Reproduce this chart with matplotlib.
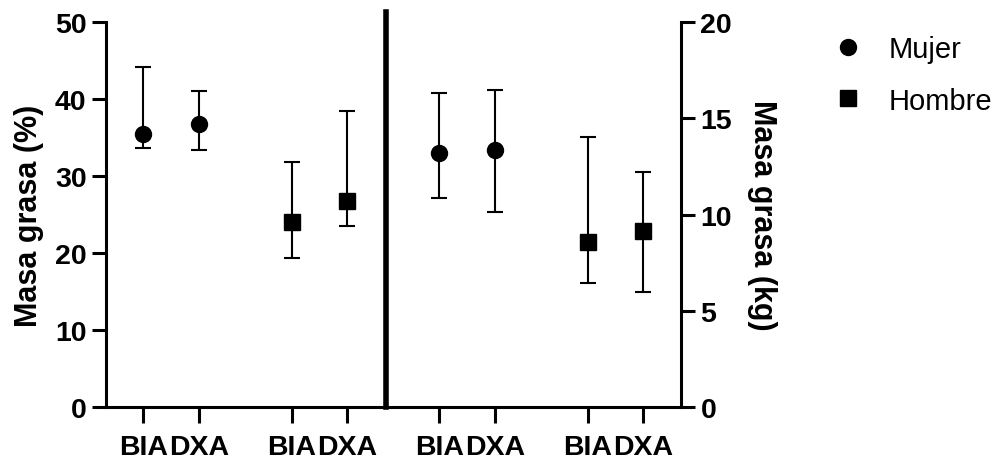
import numpy as np
import matplotlib.pyplot as plt
from matplotlib.lines import Line2D

plt.rcParams['font.family'] = ['Liberation Sans', 'DejaVu Sans']

methods = ['BIA', 'DXA']
groups = ['Mujer', 'Hombre']

# masa grasa (%): media, limite inferior, limite superior (BIA, DXA)
pct_mujer = [35.4, 36.7]
pct_mujer_lo = [33.6, 33.4]
pct_mujer_hi = [44.1, 41.0]
pct_hombre = [24.0, 26.8]
pct_hombre_lo = [19.4, 23.5]
pct_hombre_hi = [31.8, 38.5]

# masa grasa (kg)
kg_mujer = [13.2, 13.35]
kg_mujer_lo = [10.85, 10.15]
kg_mujer_hi = [16.3, 16.45]
kg_hombre = [8.55, 9.15]
kg_hombre_lo = [6.45, 5.95]
kg_hombre_hi = [14.05, 12.2]

pct_ticks = [0, 10, 20, 30, 40, 50]
kg_ticks = [0, 5, 10, 15, 20]

# x positions of the four pairs
pos = [np.array([0, 1]), np.array([2.67, 3.67]),
       np.array([5.33, 6.33]), np.array([8, 9])]
divider = 4.37

fig = plt.figure(figsize=(10.03, 4.60), dpi=100)
ax = fig.add_axes([0.1057, 0.113, 0.5733, 0.837])
ax2 = ax.twinx()

ms = 11.5
eb = dict(fmt='none', ecolor='black', elinewidth=1.5, capsize=5.8, capthick=1.5)


def draw(a, x, mean, lo, hi, marker):
    mean = np.asarray(mean)
    err = [mean - np.asarray(lo), np.asarray(hi) - mean]
    a.errorbar(x, mean, yerr=err, **eb)
    a.plot(x, mean, linestyle='none', marker=marker, color='black', markersize=ms)


draw(ax, pos[0], pct_mujer, pct_mujer_lo, pct_mujer_hi, 'o')
draw(ax, pos[1], pct_hombre, pct_hombre_lo, pct_hombre_hi, 's')
draw(ax2, pos[2], kg_mujer, kg_mujer_lo, kg_mujer_hi, 'o')
draw(ax2, pos[3], kg_hombre, kg_hombre_lo, kg_hombre_hi, 's')

ax.set_xlim(-0.67, 9.68)
ax.set_ylim(0, 50)
ax2.set_ylim(0, 20)

ax.set_yticks(pct_ticks)
ax2.set_yticks(kg_ticks)
ax.set_xticks(np.concatenate(pos))
ax.set_xticklabels(methods * 4)

for s in ['top', 'right']:
    ax.spines[s].set_visible(False)
for s in ['top', 'left', 'bottom']:
    ax2.spines[s].set_visible(False)
for s in ['left', 'bottom']:
    ax.spines[s].set_linewidth(2.2)
ax2.spines['right'].set_linewidth(2.2)

ax.tick_params(axis='y', length=10, width=2.2, labelsize=20.5, pad=4)
ax.tick_params(axis='x', length=11.5, width=2.2, labelsize=20.5, pad=8)
ax2.tick_params(axis='y', length=10, width=2.2, labelsize=20.5, pad=4)
for lab in ax.get_xticklabels() + ax.get_yticklabels() + ax2.get_yticklabels():
    lab.set_fontweight('bold')

ax.set_ylabel('Masa grasa (%)', fontsize=22, fontweight='bold', labelpad=8)
ax2.set_ylabel('Masa grasa (kg)', fontsize=22, fontweight='bold',
               rotation=270, labelpad=32)

ax.axvline(divider, ymin=0, ymax=1.026, color='black', linewidth=4, clip_on=False)

handles = [Line2D([], [], linestyle='none', marker='o', color='black', markersize=ms),
           Line2D([], [], linestyle='none', marker='s', color='black', markersize=ms)]
fig.legend(handles, groups, loc='upper left', bbox_to_anchor=(0.79, 0.978),
           frameon=False, fontsize=21, handletextpad=0.4, labelspacing=0.8)

fig.savefig('out.png', dpi=100)
